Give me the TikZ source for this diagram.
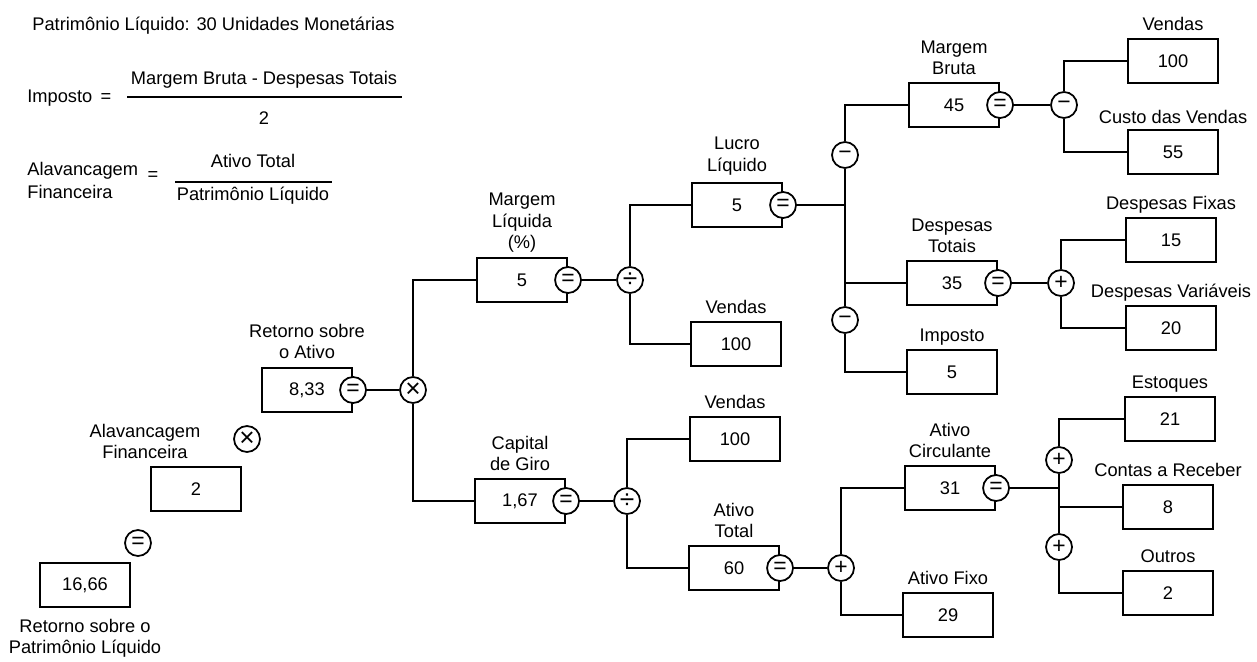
\documentclass[tikz,border=0pt]{standalone}
\usepackage{fontspec}
\setmainfont{Liberation Sans}
\usetikzlibrary{positioning}

\tikzset{
  valbox/.style={draw, line width=1.2pt, minimum width=1.8cm, minimum height=0.88cm, inner sep=0pt},
  opcirc/.style={draw, circle, fill=white, line width=1pt, minimum size=0.52cm, inner sep=0pt,
    font=\fontsize{13}{13}\selectfont},
  bigop/.style={opcirc, font=\fontsize{15}{15}\selectfont},
  lbl/.style={inner sep=0pt, text depth=0pt, align=center},
  conn/.style={line width=1.1pt},
}

\begin{document}
\begin{tikzpicture}[x=0.02cm, y=-0.02cm, font=\fontsize{10.4}{12.2}\selectfont]
\useasboundingbox (0,0) rectangle (1257,662);

% header
\node[lbl, anchor=base west] (pltxt) at (32,31) {Patrimônio Líquido: 30 Unidades Monetárias};
\node[lbl, anchor=base west] (imptxt) at (27,103) {Imposto};
\node[lbl, anchor=base] (impeq) at (106,103) {=};
\node[lbl, anchor=base] (impnum) at (264,85) {Margem Bruta - Despesas Totais};
\node[lbl, anchor=base] (impden) at (264,125) {2};
\draw[conn] (127,97) -- (402,97);
\node[lbl, anchor=north west, align=left] (alvtxt) at (27,162) {Alavancagem\\[1pt]Financeira};
\node[lbl] (alveq) at (153,176) {=};
\node[lbl, anchor=base] (alvnum) at (253,168) {Ativo Total};
\node[lbl, anchor=base] (alvden) at (253,201) {Patrimônio Líquido};
\draw[conn] (175,182) -- (332,182);

% left chain
\node[valbox] (rpl) at (85,585) {16,66};
\node[lbl, below=6pt of rpl] {Retorno sobre o\\Patrimônio Líquido};
\node[opcirc] (eq0) at (138,543) {=};
\node[valbox] (af) at (196,489) {2};
\node[lbl, anchor=south] at (145,459) {Alavancagem\\Financeira};
\node[bigop] (mul0) at (247,439) {×};
\node[valbox] (roa) at (307,390) {8,33};
\node[opcirc] (roa-eq) at (roa.east) {=};
\node[lbl, above=4.5pt of roa] {Retorno sobre\\o Ativo};
\node[bigop] (mul1) at (413,390) {×};

% margem liquida branch
\node[valbox] (ml) at (522,280) {5};
\node[opcirc] (ml-eq) at (ml.east) {=};
\node[lbl, above=4.5pt of ml] {Margem\\Líquida\\(\%)};
\node[bigop] (div1) at (630,280) {÷};
\node[valbox] (ll) at (737,205) {5};
\node[opcirc] (ll-eq) at (ll.east) {=};
\node[lbl, above=6pt of ll] {Lucro\\Líquido};
\node[valbox] (v1) at (736,344) {100};
\node[lbl, above=4pt of v1] {Vendas};

% capital de giro branch
\node[valbox] (cg) at (520,501) {1,67};
\node[opcirc] (cg-eq) at (cg.east) {=};
\node[lbl, above=4pt of cg] {Capital\\de Giro};
\node[bigop] (div2) at (627,501) {÷};
\node[valbox] (v2) at (735,439) {100};
\node[lbl, above=4pt of v2] {Vendas};
\node[valbox] (at) at (734,568) {60};
\node[opcirc] (at-eq) at (at.east) {=};
\node[lbl, above=4pt of at] {Ativo\\Total};
\node[opcirc] (add1) at (841,568) {+};

% ativo
\node[valbox] (ac) at (950,488) {31};
\node[opcirc] (ac-eq) at (ac.east) {=};
\node[lbl, above=4pt of ac] {Ativo\\Circulante};
\node[valbox] (afx) at (948,615) {29};
\node[lbl, above=4pt of afx] {Ativo Fixo};
\coordinate (jac) at (1059,488);
\node[opcirc] (add2) at (1059,460) {+};
\node[opcirc] (add3) at (1059,547) {+};
\node[valbox] (est) at (1170,419) {21};
\node[lbl, above=4pt of est] {Estoques};
\node[valbox] (cr) at (1168,507) {8};
\node[lbl, above=4pt of cr] {Contas a Receber};
\node[valbox] (out) at (1168,593) {2};
\node[lbl, above=4pt of out] {Outros};

% lucro liquido
\coordinate (jll) at (845,205);
\node[opcirc] (sub1) at (845,155) {−};
\node[opcirc] (sub2) at (845,320) {−};
\node[valbox] (mb) at (954,105) {45};
\node[opcirc] (mb-eq) at (mb.east) {=};
\node[lbl, above=4pt of mb] {Margem\\Bruta};
\node[opcirc] (sub3) at (1064,105) {−};
\node[valbox] (vt) at (1173,61) {100};
\node[lbl, above=4pt of vt] {Vendas};
\node[valbox] (cv) at (1173,152) {55};
\node[lbl, above=3pt of cv] {Custo das Vendas};
\node[valbox] (dt) at (952,283) {35};
\node[opcirc] (dt-eq) at (dt.east) {=};
\node[lbl, above=4pt of dt] {Despesas\\Totais};
\node[opcirc] (add4) at (1061,283) {+};
\node[valbox] (df) at (1171,240) {15};
\node[lbl, above=4pt of df] {Despesas Fixas};
\node[valbox] (dv) at (1171,328) {20};
\node[lbl, above=4pt of dv] {Despesas Variáveis};
\node[valbox] (imp) at (952,372) {5};
\node[lbl, above=4pt of imp] {Imposto};

% connectors
\begin{scope}[conn]
  \draw (roa-eq) -- (mul1);
  \draw (mul1.north) |- (ml.west);
  \draw (mul1.south) |- (cg.west);
  \draw (ml-eq) -- (div1);
  \draw (div1.north) |- (ll.west);
  \draw (div1.south) |- (v1.west);
  \draw (cg-eq) -- (div2);
  \draw (div2.north) |- (v2.west);
  \draw (div2.south) |- (at.west);
  \draw (at-eq) -- (add1);
  \draw (add1.north) |- (ac.west);
  \draw (add1.south) |- (afx.west);
  \draw (ac-eq) -- (jac) -- (add2.south);
  \draw (add2.north) |- (est.west);
  \draw (jac) |- (cr.west);
  \draw (jac) -- (add3.north);
  \draw (add3.south) |- (out.west);
  \draw (ll-eq) -- (jll) -- (sub1.south);
  \draw (sub1.north) |- (mb.west);
  \draw (jll) |- (dt.west);
  \draw (jll) -- (sub2.north);
  \draw (sub2.south) |- (imp.west);
  \draw (mb-eq) -- (sub3);
  \draw (sub3.north) |- (vt.west);
  \draw (sub3.south) |- (cv.west);
  \draw (dt-eq) -- (add4);
  \draw (add4.north) |- (df.west);
  \draw (add4.south) |- (dv.west);
\end{scope}
\end{tikzpicture}
\end{document}
